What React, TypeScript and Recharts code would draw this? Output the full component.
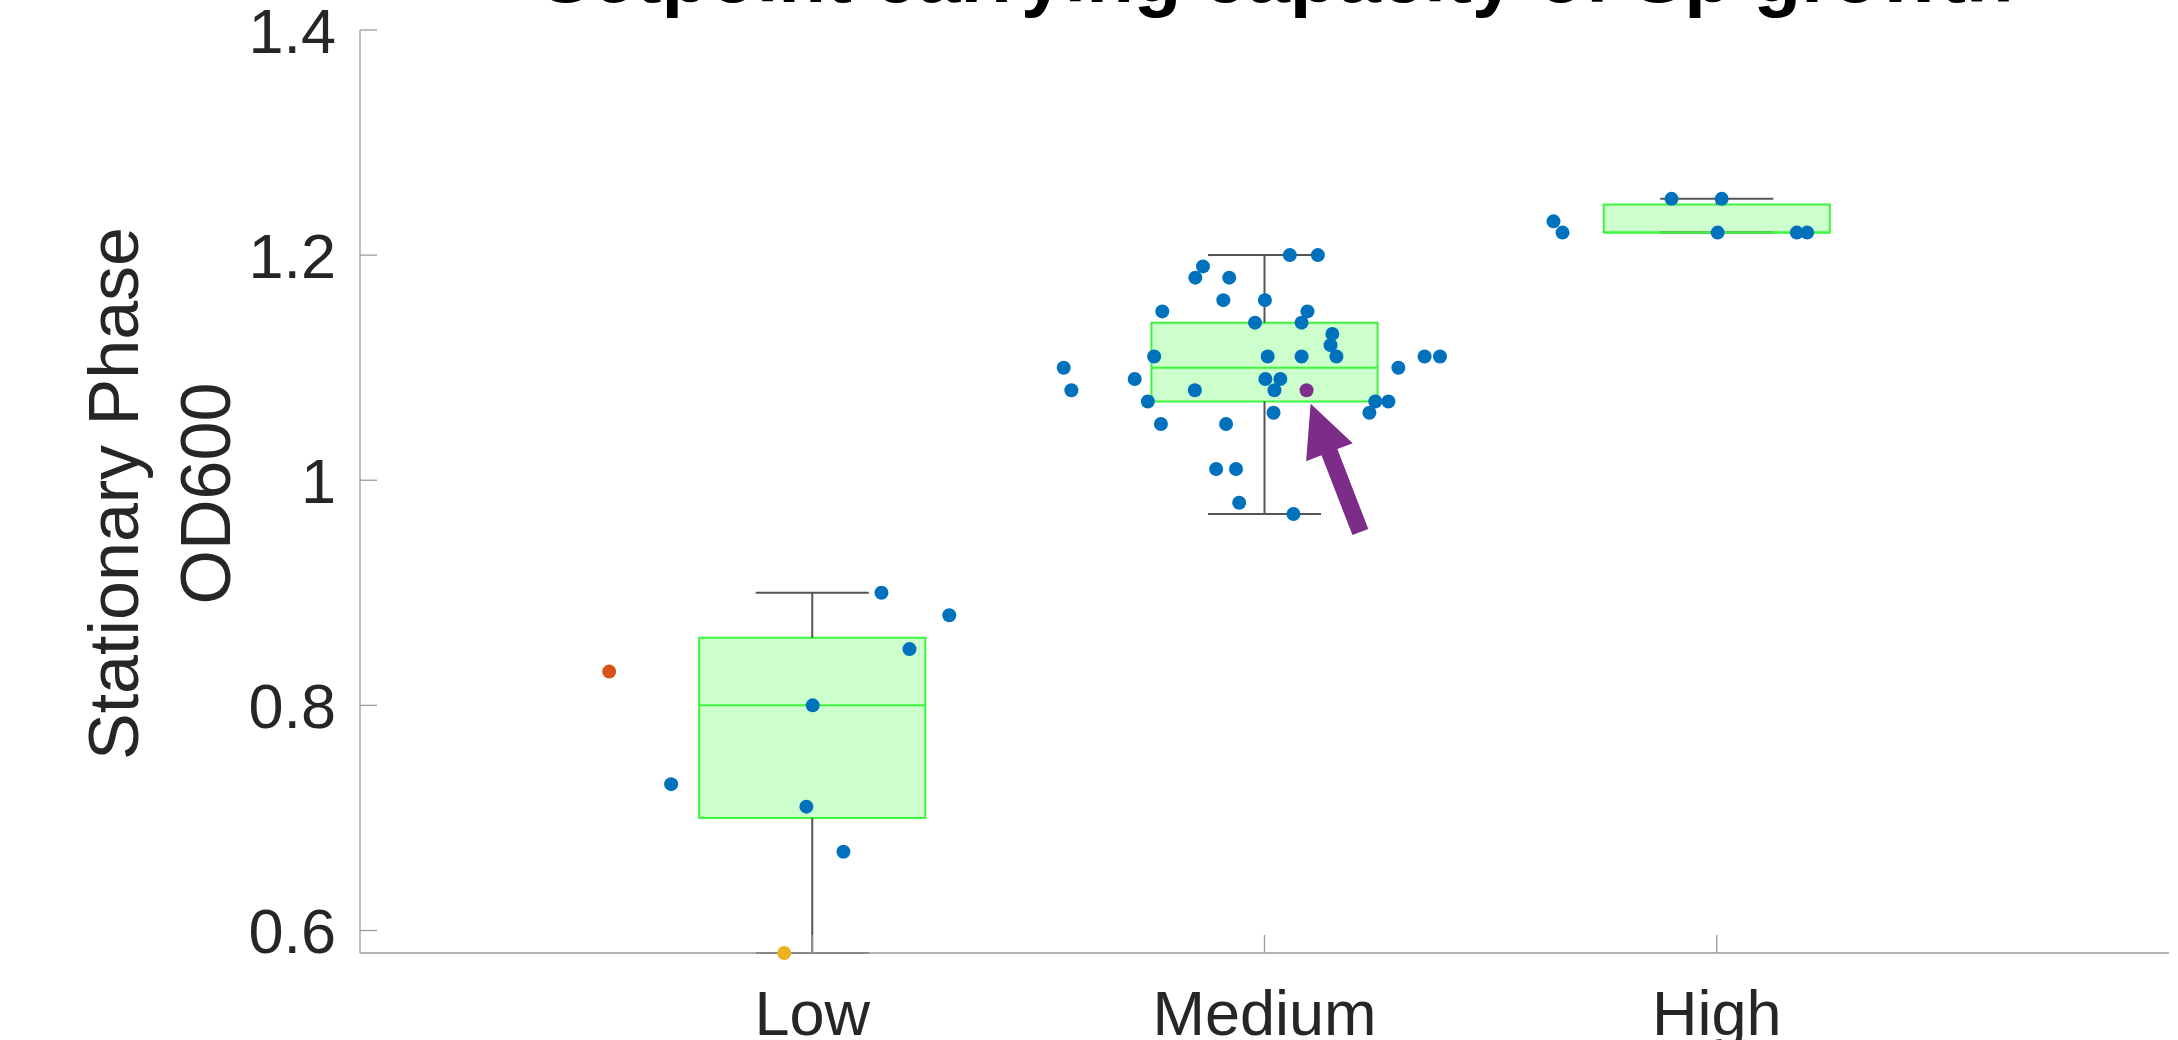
import React from "react";
import {
  ComposedChart,
  Scatter,
  XAxis,
  YAxis,
  ReferenceArea,
  ReferenceLine,
} from "recharts";

const categories = ["Low", "Medium", "High"];
const categoryPos = [1, 2, 3];
const yTicks = [0.6, 0.8, 1, 1.2, 1.4];

// box stats, one entry per category
const boxQ1 = [0.7, 1.07, 1.22];
const boxMedian = [0.8, 1.1, 1.22];
const boxQ3 = [0.86, 1.14, 1.245];
const whiskerLow = [0.58, 0.97, 1.22];
const whiskerHigh = [0.9, 1.2, 1.25];

// jittered samples (x in axis units)
const lowX = [1.153, 1.303, 1.215, 1.001, 0.688, 0.987, 1.069];
const lowY = [0.9, 0.88, 0.85, 0.8, 0.73, 0.71, 0.67];

const mediumX = [
  2.056, 2.118, 1.864, 1.847, 1.922, 1.909, 2.001, 1.774, 2.095, 1.979, 2.082,
  2.15, 2.146, 1.756, 2.007, 2.082, 2.159, 2.354, 2.388, 1.556, 2.296, 1.713,
  2.002, 2.035, 1.573, 1.846, 2.022, 1.742, 2.245, 2.274, 2.02, 2.232, 1.771,
  1.915, 1.893, 1.937, 1.944, 2.064,
];
const mediumY = [
  1.2, 1.2, 1.19, 1.18, 1.18, 1.16, 1.16, 1.15, 1.15, 1.14, 1.14, 1.13, 1.12,
  1.11, 1.11, 1.11, 1.11, 1.11, 1.11, 1.1, 1.1, 1.09, 1.09, 1.09, 1.08, 1.08,
  1.08, 1.07, 1.07, 1.07, 1.06, 1.06, 1.05, 1.05, 1.01, 1.01, 0.98, 0.97,
];

const highX = [2.639, 2.659, 2.9, 3.011, 3.002, 3.177, 3.2];
const highY = [1.23, 1.22, 1.25, 1.25, 1.22, 1.22, 1.22];

// highlighted samples
const orangePoint = [{ x: 0.551, y: 0.83 }];
const yellowPoint = [{ x: 0.938, y: 0.58 }];
const purplePoint = [{ x: 2.093, y: 1.08 }];

// annotation arrow (tail -> tip), axis units
const arrowTail = { x: 2.212, y: 0.954 };
const arrowTip = { x: 2.102, y: 1.068 };

const blueData = [
  ...lowX.map((x, i) => ({ x, y: lowY[i] })),
  ...mediumX.map((x, i) => ({ x, y: mediumY[i] })),
  ...highX.map((x, i) => ({ x, y: highY[i] })),
];

const FONT = "'Liberation Sans', Arial, Helvetica, sans-serif";
const AXIS = "#9b9b9b";
const TEXT = "#262626";
const BOX_FILL = "#ccffcc";
const BOX_EDGE = "#3cf53c";
const WHISKER = "#555555";

const dot = (color: string) => (p: any) =>
  <circle cx={p.cx} cy={p.cy} r={7} fill={color} />;

const XTick = (props: any) => {
  const { x, y, payload } = props;
  const idx = categoryPos.indexOf(payload.value);
  return (
    <g>
      <line x1={x} y1={y} x2={x} y2={y - 18} stroke={AXIS} strokeWidth={1.3} />
      <text x={x} y={y + 82} textAnchor="middle" fontSize={63} fill={TEXT} fontFamily={FONT}>
        {idx >= 0 ? categories[idx] : ""}
      </text>
    </g>
  );
};

const YTick = (props: any) => {
  const { x, y, payload } = props;
  return (
    <g>
      <line x1={x} y1={y} x2={x + 17} y2={y} stroke={AXIS} strokeWidth={1.3} />
      <text x={x - 24} y={y + 23} textAnchor="end" fontSize={63} fill={TEXT} fontFamily={FONT}>
        {String(payload.value)}
      </text>
    </g>
  );
};

const YLabel = (props: any) => {
  const vb = props.viewBox || { y: 30, height: 923 };
  const cy = vb.y + vb.height / 2 + 2;
  return (
    <g fontFamily={FONT} fontSize={70} fill={TEXT}>
      <text x={138} y={cy} textAnchor="middle" transform={`rotate(-90, 138, ${cy})`}>
        Stationary Phase
      </text>
      <text x={230} y={cy} textAnchor="middle" transform={`rotate(-90, 230, ${cy})`}>
        OD600
      </text>
    </g>
  );
};

const Arrow = (props: any) => {
  const { x1, y1, x2, y2 } = props;
  const dx = x2 - x1;
  const dy = y2 - y1;
  const len = Math.hypot(dx, dy) || 1;
  const ux = dx / len;
  const uy = dy / len;
  const nx = -uy;
  const ny = ux;
  const head = 52;
  const hh = 25;
  const hs = 8.5;
  const bx = x2 - ux * head;
  const by = y2 - uy * head;
  const pts = [
    [x1 + nx * hs, y1 + ny * hs],
    [bx + nx * hs, by + ny * hs],
    [bx + nx * hh, by + ny * hh],
    [x2, y2],
    [bx - nx * hh, by - ny * hh],
    [bx - nx * hs, by - ny * hs],
    [x1 - nx * hs, y1 - ny * hs],
  ];
  return <polygon points={pts.map((p) => p.join(",")).join(" ")} fill="#7b2d87" />;
};

export default function App() {
  return (
    <div style={{ position: "absolute", left: 0, top: 0, width: 2178, height: 1040, overflow: "hidden", background: "#fff" }}>
      <ComposedChart width={2178} height={1040} margin={{ top: 30, right: 9, left: 0, bottom: 0 }}>
        <XAxis
          type="number"
          dataKey="x"
          domain={[0, 4]}
          ticks={categoryPos}
          interval={0}
          height={87}
          tickSize={0}
          tickMargin={0}
          tickLine={false}
          axisLine={{ stroke: AXIS, strokeWidth: 1.3 }}
          tick={<XTick />}
        />
        <YAxis
          type="number"
          dataKey="y"
          domain={[0.58, 1.4]}
          ticks={yTicks}
          interval={0}
          width={360}
          tickSize={0}
          tickMargin={0}
          tickLine={false}
          axisLine={{ stroke: AXIS, strokeWidth: 1.3 }}
          tick={<YTick />}
          label={<YLabel />}
        />

        {categoryPos.map((pos, i) => (
          <ReferenceLine
            key={`wu-${i}`}
            segment={[{ x: pos, y: boxQ3[i] }, { x: pos, y: whiskerHigh[i] }]}
            stroke={WHISKER}
            strokeWidth={2}
            ifOverflow="visible"
          />
        ))}
        {categoryPos.map((pos, i) => (
          <ReferenceLine
            key={`wl-${i}`}
            segment={[{ x: pos, y: boxQ1[i] }, { x: pos, y: whiskerLow[i] }]}
            stroke={WHISKER}
            strokeWidth={2}
            ifOverflow="visible"
          />
        ))}
        {categoryPos.map((pos, i) => (
          <ReferenceLine
            key={`cu-${i}`}
            segment={[{ x: pos - 0.125, y: whiskerHigh[i] }, { x: pos + 0.125, y: whiskerHigh[i] }]}
            stroke={WHISKER}
            strokeWidth={2}
            ifOverflow="visible"
          />
        ))}
        {categoryPos.map((pos, i) => (
          <ReferenceLine
            key={`cl-${i}`}
            segment={[{ x: pos - 0.125, y: whiskerLow[i] }, { x: pos + 0.125, y: whiskerLow[i] }]}
            stroke={WHISKER}
            strokeWidth={2}
            ifOverflow="visible"
          />
        ))}

        {categoryPos.map((pos, i) => (
          <ReferenceArea
            key={`box-${i}`}
            x1={pos - 0.25}
            x2={pos + 0.25}
            y1={boxQ1[i]}
            y2={boxQ3[i]}
            fill={BOX_FILL}
            fillOpacity={1}
            stroke={BOX_EDGE}
            strokeWidth={2}
            ifOverflow="visible"
          />
        ))}
        {categoryPos.map((pos, i) => (
          <ReferenceLine
            key={`med-${i}`}
            segment={[{ x: pos - 0.25, y: boxMedian[i] }, { x: pos + 0.25, y: boxMedian[i] }]}
            stroke={BOX_EDGE}
            strokeWidth={2}
            ifOverflow="visible"
          />
        ))}

        <Scatter data={blueData} shape={dot("#0072bd")} isAnimationActive={false} />
        <Scatter data={orangePoint} shape={dot("#d95319")} isAnimationActive={false} />
        <Scatter data={yellowPoint} shape={dot("#edb120")} isAnimationActive={false} />
        <Scatter data={purplePoint} shape={dot("#7e2f8e")} isAnimationActive={false} />

        <ReferenceLine segment={[arrowTail, arrowTip]} shape={Arrow} ifOverflow="visible" />
      </ComposedChart>
      <svg width={2178} height={40} style={{ position: "absolute", left: 0, top: 0 }}>
        <text x={540} y={2} fontSize={78} fontWeight="bold" fill="#000" fontFamily={FONT}>
          Setpoint carrying capacity of Sp growth
        </text>
      </svg>
    </div>
  );
}
